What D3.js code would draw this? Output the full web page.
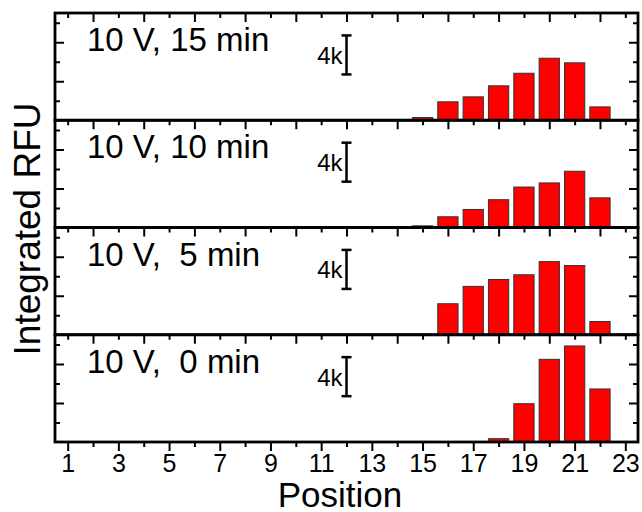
<!DOCTYPE html>
<html>
<head>
<meta charset="utf-8">
<script src="https://cdn.jsdelivr.net/npm/d3@7"></script>
<style>
  body { margin: 0; background: #fff; }
  text { font-family: "Liberation Sans", Arial, sans-serif; fill: #000; }
</style>
</head>
<body>
<div class="graph"></div>
<script>
// data (RFU per position)
const positions = [15, 16, 17, 18, 19, 20, 21, 22];
const rfu15min = [280, 1890, 2400, 3530, 4820, 6360, 5890, 1370];
const rfu10min = [170, 1100, 1850, 2850, 4150, 4570, 5770, 3040];
const rfu5min = [0, 3180, 4960, 5670, 6150, 7500, 7100, 1360];
const rfu0min = [0, 0, 0, 340, 3930, 8480, 9850, 5440];
const panelLabels = ["10 V, 15 min", "10 V, 10 min", "10 V,  5 min", "10 V,  0 min"];
const xTickLabels = [1, 3, 5, 7, 9, 11, 13, 15, 17, 19, 21, 23];
const xMinor = [2, 4, 6, 8, 10, 12, 14, 16, 18, 20, 22];
const yMajor = [4000, 8000];
const yMinor = [2000, 6000, 10000];
const scaleBar = {x: 12, from: 4700, to: 8700, label: "4k"};

const panels = [rfu15min, rfu10min, rfu5min, rfu0min];

const W = 642, H = 512;
const mLeft = 55, mRight = 638, mTop = 13, mBottom = 442;
const panelH = (mBottom - mTop) / panels.length;

const svg = d3.select(".graph").append("svg").attr("width", W).attr("height", H);

const x = d3.scaleLinear().domain([0.5, 23.5]).range([mLeft, mRight]);
const barW = (x(1) - x(0)) * 0.8;

panels.forEach((vals, i) => {
    const y0 = mTop + i * panelH;
    const y = d3.scaleLinear().domain([0, 11000]).range([y0 + panelH, y0]);
    const g = svg.append("g");

    g.selectAll("rect").data(positions.map((p, k) => ({p: p, v: vals[k]})).filter(d => d.v > 0))
      .enter().append("rect")
      .attr("x", d => x(d.p) - barW / 2)
      .attr("width", barW)
      .attr("y", d => y(d.v))
      .attr("height", d => y(0) - y(d.v))
      .attr("fill", "#ff0000")
      .attr("stroke", "#333")
      .attr("stroke-width", 1);

    // top ticks, pointing in
    g.append("g").attr("transform", "translate(0," + y0 + ")")
      .call(d3.axisTop(x).tickValues(xMinor).tickSize(-9).tickFormat(""))
      .call(a => a.select(".domain").remove());
    g.append("g").attr("transform", "translate(0," + y0 + ")")
      .call(d3.axisTop(x).tickValues(xTickLabels).tickSize(-5).tickFormat(""))
      .call(a => a.select(".domain").remove());

    // left and right ticks, pointing in
    [[d3.axisLeft, mLeft], [d3.axisRight, mRight]].forEach(([ax, px]) => {
        g.append("g").attr("transform", "translate(" + px + ",0)")
          .call(ax(y).tickValues(yMajor).tickSize(-9).tickFormat(""))
          .call(a => a.select(".domain").remove());
        g.append("g").attr("transform", "translate(" + px + ",0)")
          .call(ax(y).tickValues(yMinor).tickSize(-5).tickFormat(""))
          .call(a => a.select(".domain").remove());
    });

    g.append("rect")
      .attr("x", mLeft).attr("y", y0)
      .attr("width", mRight - mLeft).attr("height", panelH)
      .attr("fill", "none").attr("stroke", "#000").attr("stroke-width", 2.8);

    g.append("text")
      .attr("x", 87).attr("y", y0 + 38)
      .attr("font-size", 33)
      .style("white-space", "pre")
      .text(panelLabels[i]);

    // 4k scale bar
    const sb = g.append("g").attr("stroke", "#000").attr("stroke-width", 2.5);
    sb.append("line").attr("x1", x(scaleBar.x)).attr("x2", x(scaleBar.x))
      .attr("y1", y(scaleBar.from)).attr("y2", y(scaleBar.to));
    [scaleBar.from, scaleBar.to].forEach(v => {
        sb.append("line").attr("x1", x(scaleBar.x) - 5).attr("x2", x(scaleBar.x) + 5)
          .attr("y1", y(v)).attr("y2", y(v));
    });
    g.append("text")
      .attr("x", x(scaleBar.x) - 4)
      .attr("y", y((scaleBar.from + scaleBar.to) / 2) + 9)
      .attr("text-anchor", "end")
      .attr("font-size", 24)
      .text(scaleBar.label);
});

// bottom axis, ticks pointing out
const xAxis = svg.append("g").attr("transform", "translate(0," + mBottom + ")")
  .call(d3.axisBottom(x).tickValues(xTickLabels).tickSize(9).tickPadding(3));
xAxis.select(".domain").remove();
xAxis.selectAll("text").attr("font-size", 25).attr("font-family", "Liberation Sans, Arial, sans-serif");
const xMin = svg.append("g").attr("transform", "translate(0," + mBottom + ")")
  .call(d3.axisBottom(x).tickValues(xMinor).tickSize(5).tickFormat(""));
xMin.select(".domain").remove();
svg.selectAll(".tick line").attr("stroke", "#000").attr("stroke-width", 2);

svg.append("text")
  .attr("x", 340).attr("y", 507)
  .attr("text-anchor", "middle").attr("font-size", 35)
  .text("Position");

svg.append("text")
  .attr("transform", "translate(40," + 229 + ") rotate(-90)")
  .attr("text-anchor", "middle").attr("font-size", 37)
  .text("Integrated RFU");
</script>
</body>
</html>
